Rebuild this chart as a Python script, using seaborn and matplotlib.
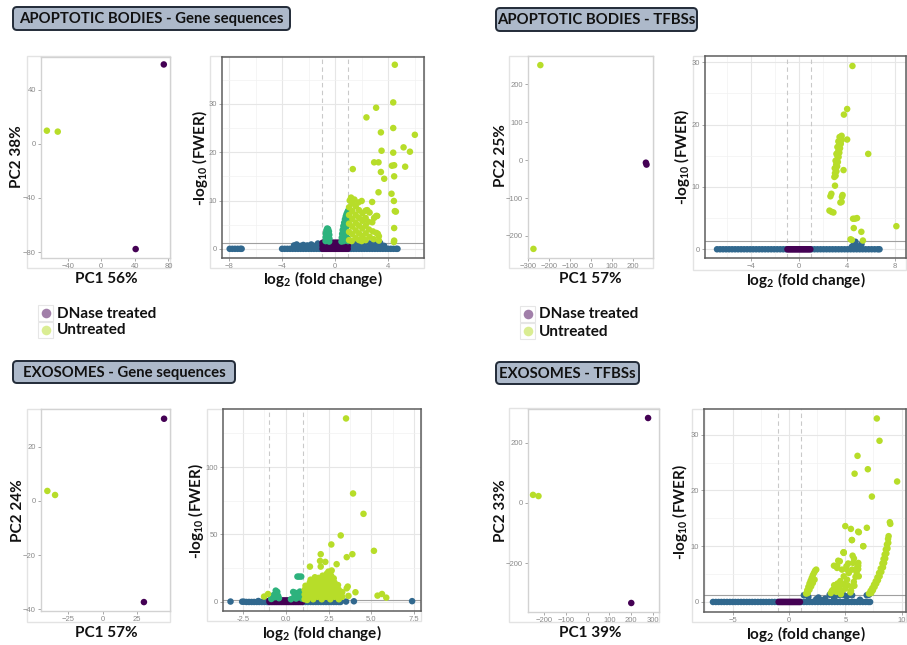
import pandas as pd
import matplotlib
matplotlib.use("Agg")
import matplotlib.pyplot as plt
import seaborn as sns
from matplotlib.patches import FancyBboxPatch, Rectangle
from matplotlib.ticker import AutoMinorLocator, FixedLocator, FixedFormatter

sns.set_theme(style="white")
plt.rcParams['font.family'] = ['Lato', 'DejaVu Sans']
plt.rcParams['mathtext.fontset'] = 'custom'
plt.rcParams['mathtext.rm'] = 'Lato:bold'
plt.rcParams['mathtext.bf'] = 'Lato:bold'
plt.rcParams['mathtext.it'] = 'Lato:bold'
plt.rcParams['mathtext.default'] = 'bf'

# ---------------------------------------------------------------- colours
PURPLE = "#440154"
BLUE = "#31688E"
TEAL = "#2DB27D"
LIME = "#B7DD29"
TREAT_PALETTE = {"DNase treated": PURPLE, "Untreated": LIME}
GROUP_PALETTE = {"ns_small": PURPLE, "ns_large": BLUE, "sig_small": TEAL, "sig_large": LIME}

# ---------------------------------------------------------------- PCA data
treatment = ["DNase treated", "DNase treated", "Untreated", "Untreated"]

ab_gene_pc1 = [74.6, 41.0, -65.0, -52.0]
ab_gene_pc2 = [58.5, -77.8, 9.6, 8.9]

ab_tfbs_pc1 = [261.0, 264.0, -243.0, -276.0]
ab_tfbs_pc2 = [-7.0, -12.0, 250.0, -234.0]

exo_gene_pc1 = [44.6, 30.0, -40.0, -34.4]
exo_gene_pc2 = [30.4, -37.4, 3.7, 2.2]

exo_tfbs_pc1 = [277.0, 200.0, -250.0, -225.0]
exo_tfbs_pc2 = [283.0, -333.0, 27.0, 23.0]

# ---------------------------------------------------------------- volcano data
# features lying on -log10(FWER) = 0, listed by log2 fold change
ab_gene_base_x = [-7.95, -7.75, -7.55, -7.35, -7.15, -7.05,
                  -4.0, -3.8, -3.6, -3.4, -3.2, -3.0, -2.8, -2.6, -2.4, -2.2, -2.0,
                  -1.8, -1.6, -1.4, -1.2, -1.02,
                  1.02, 1.2, 1.4, 1.6, 1.8, 2.0, 2.2, 2.4, 2.6, 2.8, 3.0, 3.2, 3.4,
                  3.6, 3.8, 4.0, 4.2, 4.4, 4.6, 4.7]
ab_tfbs_base_x = [-6.8, -6.55, -6.3, -6.05, -5.8, -5.55, -5.3, -5.05, -4.8, -4.55, -4.3,
                  -4.05, -3.8, -3.55, -3.3, -3.05, -2.8, -2.55, -2.3, -2.05, -1.8, -1.55,
                  -1.3, -1.05,
                  1.05, 1.3, 1.55, 1.8, 2.05, 2.3, 2.55, 2.8, 3.05, 3.3, 3.55, 3.8, 4.05,
                  4.3, 4.55, 4.8, 5.05, 5.3, 5.55, 5.8, 6.05, 6.3, 6.55, 6.7]
exo_gene_base_x = [-2.3, -2.15, -2.0, -1.85, -1.7, -1.55, -1.4, -1.25, -1.1, -1.02,
                   1.02, 1.15, 1.3, 1.45, 1.6, 1.75, 1.9, 2.05, 2.2, 2.35, 2.5, 2.65,
                   2.8, 2.95, 3.1, 3.2]
exo_tfbs_base_x = [-6.8, -6.55, -6.3, -6.05, -5.8, -5.55, -5.3, -5.05, -4.8, -4.55, -4.3,
                   -4.05, -3.8, -3.55, -3.3, -3.05, -2.8, -2.55, -2.3, -2.05, -1.8, -1.55,
                   -1.3, -1.05,
                   1.05, 1.3, 1.55, 1.8, 2.05, 2.3, 2.55, 2.8, 3.05, 3.3, 3.55, 3.8, 4.05,
                   4.3, 4.55, 4.8, 5.05, 5.3, 5.55, 5.8, 6.05, 6.3, 6.55, 6.8, 7.05, 7.2]

# small fold changes (|log2 FC| < 1), not significant
small_fc_x = [-0.95, -0.85, -0.75, -0.65, -0.55, -0.45, -0.35, -0.25, -0.15, -0.05,
              0.05, 0.15, 0.25, 0.35, 0.45, 0.55, 0.65, 0.75, 0.85, 0.95]
ab_gene_small_levels = [0.0, 0.65, 1.25]
ab_tfbs_small_levels = [0.0]
exo_gene_small_levels = [0.0, 1.1]
exo_tfbs_small_levels = [0.0]

# Apoptotic bodies - gene sequences
ab_gene_blue = [
    (-3.1, 0.7), (-2.9, 0.9), (-2.6, 0.6), (-2.4, 0.8), (-2.1, 0.7), (-1.8, 0.9),
    (-1.6, 0.6), (-1.3, 1.1), (-1.1, 0.8),
    (1.1, 1.2), (1.4, 1.1), (1.7, 1.2), (2.0, 1.0), (2.3, 1.2), (2.6, 1.1), (2.9, 1.2),
    (3.2, 1.0), (3.4, 1.2), (3.7, 0.6), (1.25, 0.6), (1.9, 0.6), (2.7, 0.5),
]
ab_gene_teal = [
    (-0.72, 1.6), (-0.72, 2.4), (-0.7, 3.2), (-0.66, 3.8), (-0.6, 4.2), (-0.53, 4.1),
    (-0.47, 3.6), (-0.44, 2.9), (-0.43, 2.1), (-0.45, 1.5), (-0.58, 2.0), (-0.6, 3.0),
    (-0.52, 2.6), (-0.55, 3.4),
    (0.48, 1.5), (0.5, 2.3), (0.53, 3.1), (0.57, 3.9), (0.62, 4.7), (0.68, 5.4),
    (0.74, 6.1), (0.8, 6.7), (0.86, 7.2), (0.93, 7.6), (0.98, 7.9), (0.97, 6.8),
    (0.95, 5.8), (0.9, 4.8), (0.85, 3.8), (0.8, 2.8), (0.75, 2.0), (0.65, 1.6),
    (0.97, 3.5), (0.93, 2.2), (0.88, 5.8), (0.7, 3.2), (0.62, 2.4), (0.78, 4.4), (0.97, 1.6),
]
ab_gene_lime = [
    (1.05, 1.8), (1.05, 3.5), (1.05, 5.2), (1.05, 7.0), (1.05, 8.6), (1.1, 10.0),
    (1.2, 10.6), (1.3, 9.4), (1.3, 7.8), (1.3, 6.2), (1.3, 4.6), (1.3, 3.0), (1.25, 1.6),
    (1.45, 10.2), (1.55, 8.8), (1.55, 7.0), (1.55, 5.4), (1.55, 3.8), (1.55, 2.2),
    (1.75, 9.6), (1.8, 8.0), (1.8, 6.4), (1.8, 4.8), (1.8, 3.2), (1.8, 1.8),
    (2.0, 9.9), (2.05, 7.4), (2.05, 5.8), (2.05, 4.2), (2.05, 2.6), (2.0, 1.6),
    (2.3, 7.9), (2.3, 6.4), (2.3, 4.8), (2.3, 3.2), (2.3, 1.8), (2.42, 8.0),
    (2.5, 5.6), (2.55, 4.0), (2.6, 7.5), (2.6, 2.5), (2.8, 5.5), (2.85, 3.6), (2.9, 2.0),
    (3.1, 3.3), (3.3, 2.6), (3.3, 1.7), (3.17, 6.8), (2.17, 6.1),
    (4.5, 38.1), (4.38, 30.3), (3.09, 29.2), (2.36, 27.2), (4.38, 25.0), (3.45, 24.1),
    (6.01, 23.6), (5.16, 21.0), (5.64, 20.1), (3.5, 20.3), (4.38, 19.9), (2.94, 17.9),
    (3.27, 17.9), (4.28, 17.2), (4.45, 17.3), (5.28, 17.0), (1.33, 16.5), (3.45, 15.9),
    (4.45, 15.0), (3.7, 14.5), (3.27, 11.7), (4.25, 11.4), (4.43, 9.9), (2.79, 9.7),
    (4.5, 7.8), (4.58, 7.7), (3.09, 6.8), (2.94, 6.4), (4.45, 4.3), (4.45, 1.7),
    (4.43, 1.4), (3.22, 3.1),
]

# Apoptotic bodies - TFBSs
ab_tfbs_blue = [
    (4.4, 0.4), (4.55, 0.7), (4.7, 1.2), (4.85, 0.5), (5.1, 0.3), (5.2, 0.8), (4.6, 0.2),
]
ab_tfbs_teal = []
ab_tfbs_lime = [
    (2.95, 11.6), (3.0, 12.2), (3.05, 12.9), (3.1, 13.6), (3.15, 14.3), (3.2, 15.0),
    (3.25, 15.6), (3.3, 16.2), (3.35, 16.8), (3.42, 17.4), (3.5, 18.0), (3.55, 18.2),
    (3.05, 11.8), (3.12, 12.5), (3.18, 13.3), (3.24, 14.0), (3.3, 14.8), (3.36, 15.5),
    (3.42, 16.2), (3.48, 16.9), (3.55, 17.5), (2.98, 13.0), (3.05, 14.2), (3.12, 15.3),
    (3.2, 16.4), (3.28, 17.3), (3.38, 18.0),
    (4.45, 29.4), (4.01, 22.5), (3.74, 21.6), (4.01, 17.6), (5.76, 15.3), (3.71, 12.7),
    (3.0, 10.2), (3.63, 8.7), (3.58, 8.4), (3.55, 7.6), (3.45, 7.5), (2.70, 8.9),
    (2.62, 8.5), (2.54, 6.2), (2.87, 5.9), (2.72, 6.0), (4.5, 4.9), (4.83, 5.0),
    (4.65, 4.9), (4.56, 3.4), (5.19, 2.8), (8.1, 3.7), (4.29, 1.6), (4.4, 1.5), (5.32, 1.4),
]

# Exosomes - gene sequences
exo_gene_blue = [
    (-3.23, 0.3), (-2.55, 0.2), (-2.45, 0.2), (3.52, 0.3), (3.98, 0.5), (7.38, 0.6),
    (1.3, 1.0), (1.7, 0.8), (2.2, 1.1), (2.7, 0.9), (-1.6, 0.7), (-1.2, 1.0), (3.0, 0.6),
]
exo_gene_teal = [
    (0.68, 18.8), (0.78, 18.8), (0.9, 18.8), (-0.59, 8.4), (-0.5, 7.5), (-0.55, 6.4),
    (-0.7, 5.2), (-0.45, 4.6), (-0.65, 3.5), (-0.4, 2.8), (0.43, 7.4), (0.55, 6.8),
    (0.63, 6.4), (0.82, 7.7), (0.7, 5.5), (0.9, 4.8), (0.5, 4.0), (0.75, 3.5),
    (0.95, 2.5), (0.6, 2.5), (0.85, 6.0), (-0.85, 2.2), (0.3, 2.0),
]
exo_gene_lime = [
    (1.1, 2.0), (1.1, 5.5), (1.1, 9.0), (1.15, 12.0),
    (1.35, 3.8), (1.35, 7.3), (1.35, 10.8), (1.4, 14.3), (1.45, 16.5),
    (1.6, 2.0), (1.6, 5.5), (1.6, 9.0), (1.6, 12.5), (1.65, 16.0), (1.7, 18.3),
    (1.85, 3.8), (1.85, 7.3), (1.85, 10.8), (1.85, 14.3), (1.9, 17.8),
    (2.1, 2.0), (2.1, 5.5), (2.1, 9.0), (2.1, 12.5), (2.1, 16.0), (2.15, 19.5),
    (2.35, 3.8), (2.35, 7.3), (2.35, 10.8), (2.35, 14.3), (2.35, 17.8), (2.4, 21.0),
    (2.6, 2.0), (2.6, 5.5), (2.6, 9.0), (2.6, 12.5), (2.6, 16.0), (2.65, 19.5),
    (2.85, 3.8), (2.85, 7.3), (2.85, 10.8), (2.85, 14.3), (2.8, 17.5),
    (3.1, 2.0), (3.1, 5.5), (3.1, 9.0), (3.05, 12.5),
    (3.3, 3.8), (3.3, 7.3), (1.25, 1.5), (-1.04, 5.9), (-1.27, 4.0),
    (3.52, 136.0), (3.93, 80.4), (4.54, 65.3), (3.21, 49.3), (2.66, 42.6), (5.15, 37.9),
    (3.89, 35.4), (3.56, 33.2), (2.04, 35.4), (2.0, 30.4), (2.31, 29.7), (2.97, 28.0),
    (1.41, 26.2), (2.04, 26.2), (2.49, 22.5), (2.68, 23.3), (5.36, 4.7), (5.62, 5.9),
    (5.87, 3.2), (4.07, 7.2), (3.62, 11.4), (3.56, 10.1), (3.66, 4.5),
]

# Exosomes - TFBSs
exo_tfbs_blue = [
    (1.3, 1.2), (1.5, 1.4), (1.7, 0.9), (2.4, 0.5), (2.6, 0.8), (3.6, 1.3), (3.9, 1.1),
    (4.2, 1.3), (4.5, 1.2), (4.8, 1.3), (5.1, 1.0), (5.4, 1.3), (5.6, 1.2), (6.9, 1.2),
    (7.1, 1.3), (6.3, 0.4), (3.2, 0.6), (2.9, 0.3), (4.0, 0.6),
]
exo_tfbs_teal = []
exo_tfbs_lime = [
    (1.5, 1.5), (1.6, 2.1), (1.7, 2.7), (1.8, 3.3), (1.9, 3.8), (2.0, 4.3), (2.1, 4.8),
    (2.2, 5.2), (2.3, 5.6), (2.4, 5.8), (1.65, 1.6), (1.8, 2.2), (1.95, 2.8), (2.1, 3.4),
    (2.25, 4.0),
    (4.26, 6.1), (4.5, 7.3), (4.85, 8.8), (5.09, 6.4), (4.7, 5.8), (4.85, 4.6), (4.55, 3.75),
    (4.1, 2.6), (3.8, 2.0), (4.4, 2.3), (5.15, 4.0), (5.3, 5.2), (5.6, 5.8), (5.68, 7.0),
    (6.04, 6.1), (6.19, 4.6), (5.8, 2.9), (5.45, 1.7), (4.6, 1.4), (3.98, 6.5), (4.27, 6.5),
    (4.36, 7.4), (4.84, 8.9), (5.64, 8.3), (5.76, 7.8), (5.25, 6.9), (5.1, 5.9), (6.14, 6.5),
    (6.14, 5.9), (5.58, 11.1), (6.59, 10.0), (3.7, 1.6), (3.9, 2.2), (4.0, 3.0), (4.2, 1.8),
    (4.3, 3.3), (4.5, 2.8), (4.7, 2.0), (4.9, 3.2), (5.0, 2.4), (5.2, 3.0), (5.5, 2.0),
    (5.6, 2.8), (5.75, 3.6), (5.9, 4.5), (6.0, 5.3), (6.1, 6.2), (6.15, 7.0),
    (7.1, 1.5), (7.25, 2.0), (7.4, 2.5), (7.55, 3.1), (7.7, 3.7), (7.85, 4.4), (8.0, 5.2),
    (8.15, 6.0), (8.3, 6.9), (8.4, 7.7), (8.5, 8.5), (8.6, 9.4), (8.7, 10.3), (8.8, 11.3),
    (8.85, 11.8), (7.3, 1.6), (7.45, 2.1), (7.6, 2.7), (7.75, 3.3), (7.9, 3.9), (8.05, 4.6),
    (8.2, 5.4), (8.35, 6.2), (8.45, 7.0), (8.55, 7.8), (8.65, 8.7), (8.75, 9.6), (8.82, 10.6),
    (7.8, 32.9), (8.04, 28.9), (6.08, 26.2), (5.82, 23.0), (7.0, 23.8), (9.61, 21.6),
    (7.36, 18.9), (8.96, 14.3), (9.0, 14.0), (4.99, 13.6), (5.49, 13.1), (6.14, 12.6),
    (6.2, 12.5), (6.91, 13.3), (5.58, 11.1), (6.59, 10.0), (4.84, 8.9),
]

# ---------------------------------------------------------------- figure
W, H, DPI = 907, 645, 100
fig = plt.figure(figsize=(W / DPI, H / DPI), dpi=DPI)
fig.patch.set_facecolor("white")

ov = fig.add_axes([0, 0, 1, 1])
ov.set_xlim(0, W)
ov.set_ylim(H, 0)
ov.axis("off")

TICK_GREY = "#8A8A8A"


def px_rect(l, t, r, b):
    return [l / W, 1 - b / H, (r - l) / W, (b - t) / H]


def outer_frame(l, t, r, b):
    ov.add_patch(Rectangle((l, t), r - l, b - t, fill=False, ec="#E3E3E3", lw=1.0))


def title_box(l, t, r, b, text, size):
    ov.add_patch(FancyBboxPatch((l, t), r - l, b - t,
                                boxstyle="round,pad=0,rounding_size=4",
                                fc="#ADB9CA", ec="#222B38", lw=1.4))
    ov.text((l + r) / 2, (t + b) / 2 + 0.5, text, ha="center", va="center",
            fontsize=size, fontweight="bold", color="#111111")


def style_ticks(ax, xticks, yticks, xlabels=None):
    ax.xaxis.set_major_locator(FixedLocator(xticks))
    ax.yaxis.set_major_locator(FixedLocator(yticks))
    if xlabels is not None:
        ax.xaxis.set_major_formatter(FixedFormatter(xlabels))
    ax.tick_params(which="major", direction="out", length=2.5, width=0.6,
                   color="#9A9A9A", labelsize=5.5, labelcolor=TICK_GREY, pad=1.2,
                   bottom=True, left=True)
    for lab in ax.get_xticklabels() + ax.get_yticklabels():
        lab.set_family("Liberation Sans")


def place_labels(ax, xlab, ylab, xpos, ypos, size=11):
    ax.set_xlabel(xlab, fontsize=size, fontweight="bold", color="#111111")
    ax.set_ylabel(ylab, fontsize=size, fontweight="bold", color="#111111")
    ax.xaxis.set_label_coords(*xpos, transform=ov.transData)
    ax.yaxis.set_label_coords(*ypos, transform=ov.transData)
    ax.xaxis.label.set_va("center")
    ax.yaxis.label.set_va("center")


def pca_panel(rect, frame, pc1, pc2, xlim, ylim, xticks, yticks, xlab, xpos, ypos, ylab):
    outer_frame(*frame)
    ax = fig.add_axes(px_rect(*rect))
    df = pd.DataFrame({"PC1": pc1, "PC2": pc2, "Treatment": treatment})
    sns.scatterplot(data=df, x="PC1", y="PC2", hue="Treatment", palette=TREAT_PALETTE,
                    s=22, linewidth=0, legend=False, ax=ax, zorder=3)
    ax.set_xlim(*xlim)
    ax.set_ylim(*ylim)
    for sp in ax.spines.values():
        sp.set_color("#D2D2D2")
        sp.set_linewidth(1.0)
    style_ticks(ax, xticks, yticks)
    place_labels(ax, xlab, ylab, xpos, ypos)
    return ax


def volcano_frame(base_x, small_levels, blue, teal, lime):
    rows = [{"log2FC": x, "FWER": 0.0, "group": "ns_large"} for x in base_x]
    rows += [{"log2FC": x, "FWER": y, "group": "ns_large"} for x, y in blue]
    rows += [{"log2FC": x, "FWER": y, "group": "ns_small"}
             for y in small_levels for x in small_fc_x]
    rows += [{"log2FC": x, "FWER": y, "group": "sig_small"} for x, y in teal]
    rows += [{"log2FC": x, "FWER": y, "group": "sig_large"} for x, y in lime]
    return pd.DataFrame(rows)


def volcano_panel(rect, frame, df, xlim, ylim, xticks, yticks, xpos, ypos, xlabels=None):
    outer_frame(*frame)
    ax = fig.add_axes(px_rect(*rect))
    ax.set_xlim(*xlim)
    ax.set_ylim(*ylim)
    ax.xaxis.set_minor_locator(AutoMinorLocator(2))
    ax.yaxis.set_minor_locator(AutoMinorLocator(2))
    ax.grid(which="major", color="#E6E6E6", lw=0.8, zorder=0)
    ax.grid(which="minor", color="#F1F1F1", lw=0.5, zorder=0)
    ax.set_axisbelow(True)
    ax.tick_params(which="minor", length=0)
    for v in (-1, 1):
        ax.axvline(v, color="#C9C9C9", lw=0.8, ls=(0, (4, 3)), zorder=1)
    ax.axhline(1.3, color="#A0A0A0", lw=0.8, zorder=1)
    sns.scatterplot(data=df, x="log2FC", y="FWER", hue="group", palette=GROUP_PALETTE,
                    s=22, linewidth=0, legend=False, ax=ax, zorder=3)
    for sp in ax.spines.values():
        sp.set_color("#5E5E5E")
        sp.set_linewidth(1.1)
    style_ticks(ax, xticks, yticks, xlabels)
    place_labels(ax, r"log$_{2}$ (fold change)", r"-log$_{10}$ (FWER)", xpos, ypos)
    return ax


# ---------------- titles
title_box(13, 7, 290, 30, "APOPTOTIC BODIES - Gene sequences", 10.7)
title_box(496, 8, 697, 31, "APOPTOTIC BODIES - TFBSs", 10.7)
title_box(13, 361, 235, 383, "EXOSOMES - Gene sequences", 10.7)
title_box(496, 362, 639, 384, "EXOSOMES - TFBSs", 10.7)

# ---------------- apoptotic bodies, gene sequences
pca_panel((41, 57, 170, 258), (27, 56, 170, 268), ab_gene_pc1, ab_gene_pc2,
          (-72, 82), (-84.4, 64), [-40, 0, 40, 80], [-80, -40, 0, 40],
          "PC1 56%", (106, 279), (17, 157), "PC2 38%")
volcano_panel((222, 57, 424, 258), (210, 56, 424, 268),
              volcano_frame(ab_gene_base_x, ab_gene_small_levels,
                            ab_gene_blue, ab_gene_teal, ab_gene_lime),
              (-8.53, 6.7), (-1.9, 39.7), [-8, -4, 0, 4], [0, 10, 20, 30],
              (323, 279), (200, 158))

# ---------------- apoptotic bodies, TFBSs
pca_panel((528, 56, 653, 258), (509, 56, 653, 268), ab_tfbs_pc1, ab_tfbs_pc2,
          (-302, 295), (-258, 274), [-300, -200, -100, 0, 100, 200], [-200, -100, 0, 100, 200],
          "PC1 57%", (590, 279), (501, 156), "PC2 25%")
volcano_panel((705, 56, 906, 258), (693, 56, 906, 270),
              volcano_frame(ab_tfbs_base_x, ab_tfbs_small_levels,
                            ab_tfbs_blue, ab_tfbs_teal, ab_tfbs_lime),
              (-7.8, 8.9), (-1.4, 31.0), [-4, 0, 4, 8], [0, 10, 20, 30],
              (806, 280), (682, 157))

# ---------------- exosomes, gene sequences
pca_panel((41, 409, 170, 611), (27, 409, 170, 622), exo_gene_pc1, exo_gene_pc2,
          (-44.6, 48.9), (-40.7, 34.0), [-25, 0, 25], [-40, -20, 0, 20],
          "PC1 57%", (106, 633), (18, 511), "PC2 24%")
volcano_panel((223, 409, 421, 611), (207, 409, 421, 621),
              volcano_frame(exo_gene_base_x, exo_gene_small_levels,
                            exo_gene_blue, exo_gene_teal, exo_gene_lime),
              (-3.67, 7.9), (-6.7, 143), [-2.5, 0, 2.5, 5, 7.5], [0, 50, 100],
              (322, 633), (196, 511), xlabels=["-2.5", "0.0", "2.5", "5.0", "7.5"])

# ---------------- exosomes, TFBSs
pca_panel((528, 409, 659, 612), (509, 408, 659, 622), exo_tfbs_pc1, exo_tfbs_pc2,
          (-273, 327), (-363, 313), [-200, -100, 0, 100, 200, 300], [-200, 0, 200],
          "PC1 39%", (590, 633), (501, 511), "PC2 33%")
volcano_panel((704, 409, 906, 612), (692, 409, 906, 622),
              volcano_frame(exo_tfbs_base_x, exo_tfbs_small_levels,
                            exo_tfbs_blue, exo_tfbs_teal, exo_tfbs_lime),
              (-7.6, 10.4), (-1.8, 34.6), [-5, 0, 5, 10], [0, 10, 20, 30],
              (806, 634), (680, 512))


# ---------------- legends
def legend_block(x, y0, y1):
    for yy, label in ((y0, "DNase treated"), (y1, "Untreated")):
        ov.add_patch(Rectangle((x - 8, yy - 8), 15, 16, fill=False, ec="#E6E6E6", lw=0.8))
        ov.scatter([x], [yy], s=48, color=TREAT_PALETTE[label], alpha=0.5, linewidths=0)
        ov.text(x + 11, yy + 0.5, label, ha="left", va="center", fontsize=11,
                fontweight="bold", color="#111111")


legend_block(46, 313, 330)
legend_block(528, 314, 331)

fig.savefig("out.png", dpi=DPI, facecolor="white")
